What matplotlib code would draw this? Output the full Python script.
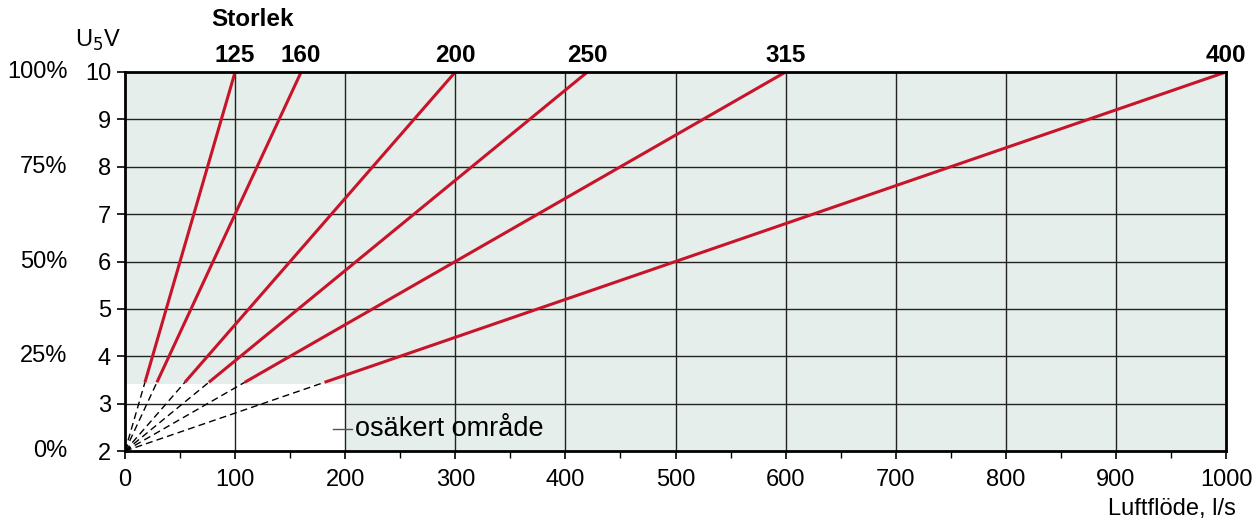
import matplotlib
matplotlib.use("Agg")
import matplotlib.pyplot as plt
import numpy as np

plt.rcParams['font.family'] = ['Liberation Sans', 'DejaVu Sans']

sizes = ['125', '160', '200', '250', '315', '400']
flow_at_max = [100, 160, 300, 420, 600, 1000]   # l/s at 10 V
v_min, v_max = 2, 10
v_dash_end = 3.45        # below this the lines are dashed (uncertain area)
uncertain_x = 200
uncertain_v = 3.42
x_ticks = [0, 100, 200, 300, 400, 500, 600, 700, 800, 900, 1000]
y_ticks = [2, 3, 4, 5, 6, 7, 8, 9, 10]
pct_labels = ['0%', '25%', '50%', '75%', '100%']
pct_pos = [2, 4, 6, 8, 10]

fig = plt.figure(figsize=(12.56, 5.19), dpi=100)
ax = fig.add_axes([125/1256, 1-451/519, (1226-125)/1256, (451-72)/519])
ax.set_xlim(0, 1000)
ax.set_ylim(v_min, v_max)
ax.set_facecolor('#E5EEEA')

# white uncertain area
ax.fill_between([0, uncertain_x], v_min, uncertain_v, color='white', zorder=1, lw=0)

# grid
for x in x_ticks[1:-1]:
    ax.axvline(x, color='#222222', lw=1.0, zorder=2)
for y in y_ticks[1:-1]:
    ax.axhline(y, color='#222222', lw=1.0, zorder=2)

red = '#C8142A'
for s, f in zip(sizes, flow_at_max):
    xs = f * (v_dash_end - v_min) / (v_max - v_min)
    ax.plot([0, xs], [v_min, v_dash_end], color='black', lw=1.0,
            ls=(0, (5, 3)), zorder=3)
    ax.plot([xs, f], [v_dash_end, v_max], color=red, lw=2.2, zorder=4,
            solid_capstyle='butt')
    ax.text(f, v_max + 0.1, s, ha='center', va='bottom', fontsize=17.5,
            fontweight='bold', clip_on=False)

fig.text(253/1256, 1-20/519, 'Storlek', fontsize=17.5, fontweight='bold',
         ha='center', va='center')
fig.text(98/1256, 1-40/519, r'U$_5$V', fontsize=17, ha='center', va='center')

# uncertain area label
ax.plot([189, 206], [2.47, 2.47], color='#555555', lw=1.0, zorder=5)
ax.text(209, 2.47, 'osäkert område', fontsize=19.5, va='center', ha='left', zorder=5)

ax.set_xticks(x_ticks)
ax.set_xticks(np.arange(50, 1000, 100), minor=True)
ax.set_yticks(y_ticks)
ax.tick_params(axis='both', which='major', direction='out', length=6, width=1.2,
               labelsize=17, color='black', pad=4)
ax.tick_params(axis='x', which='minor', direction='out', length=5, width=1.0)
ax.tick_params(axis='x', pad=7)

for sp in ax.spines.values():
    sp.set_linewidth(2.0)
    sp.set_color('black')
    sp.set_zorder(6)

for p, lab in zip(pct_pos, pct_labels):
    ax.text(-52, p, lab, fontsize=17, ha='right', va='center', clip_on=False)

fig.text(1236/1256, 1-509/519, 'Luftflöde, l/s', fontsize=17, ha='right', va='center')

fig.savefig('out.png', dpi=100)
